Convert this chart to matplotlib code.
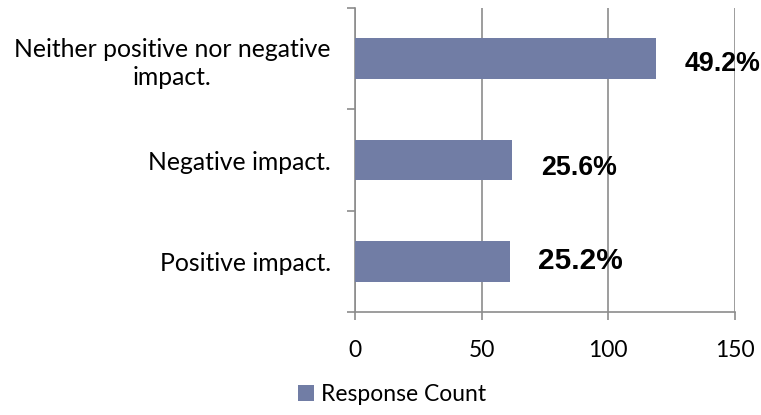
import matplotlib.pyplot as plt
from matplotlib.ticker import FixedLocator

# Dados
categorias = ["Positive impact.", "Negative impact.", "Neither positive nor negative\nimpact."]
contagens = [61, 62, 119]
percentuais = ["25.2%", "25.6%", "49.2%"]
rotulo_serie = "Response Count"

cor_barra = "#717DA5"
cor_grade = "#8C8C8C"

fig = plt.figure(figsize=(7.61, 4.15), dpi=100)
ax = fig.add_axes([0.4665, 0.2482, 0.4993, 0.7325])

posicoes = list(range(len(categorias)))
ax.barh(posicoes, contagens, height=0.4, color=cor_barra, label=rotulo_serie, zorder=3)

ax.set_xlim(0, 150)
ax.set_ylim(-0.5, 2.5)
ax.set_xticks([0, 50, 100, 150])
ax.xaxis.grid(True, color=cor_grade, linewidth=1.2, zorder=0)

# Rótulos das categorias no centro, marcas nas divisões
ax.set_yticks(posicoes)
ax.set_yticklabels(categorias)
ax.yaxis.set_minor_locator(FixedLocator([-0.5, 0.5, 1.5, 2.5]))
ax.tick_params(axis="y", which="major", length=0, pad=17.5, labelsize=17.8)
ax.tick_params(axis="y", which="minor", length=6, color=cor_grade, width=1.2)
ax.tick_params(axis="x", length=6, color=cor_grade, width=1.2, pad=14, labelsize=16.5)
for lbl in ax.get_yticklabels() + ax.get_xticklabels():
    lbl.set_fontfamily("Lato")
for lbl in ax.get_yticklabels():
    lbl.set_multialignment("center")
    lbl.set_linespacing(1.3)

for s in ["top", "right"]:
    ax.spines[s].set_visible(False)
for s in ["left", "bottom"]:
    ax.spines[s].set_color(cor_grade)
    ax.spines[s].set_linewidth(1.2)

# Percentuais em negrito à direita das barras
tamanhos = [21.5, 19.3, 19.3]
desloc_y = [0.0, -0.08, -0.05]
for i, (v, p) in enumerate(zip(contagens, percentuais)):
    ax.text(v + 11.3, i + desloc_y[i], p, ha="left", va="center", fontweight="bold",
            fontsize=tamanhos[i], fontfamily="Liberation Sans", zorder=4, clip_on=False)

fig.legend(loc="lower center", bbox_to_anchor=(0.515, -0.025), frameon=False,
           prop={"family": "Lato", "size": 16.5}, handlelength=0.7, handleheight=0.7,
           handletextpad=0.3)

fig.savefig("out.png", dpi=100)
